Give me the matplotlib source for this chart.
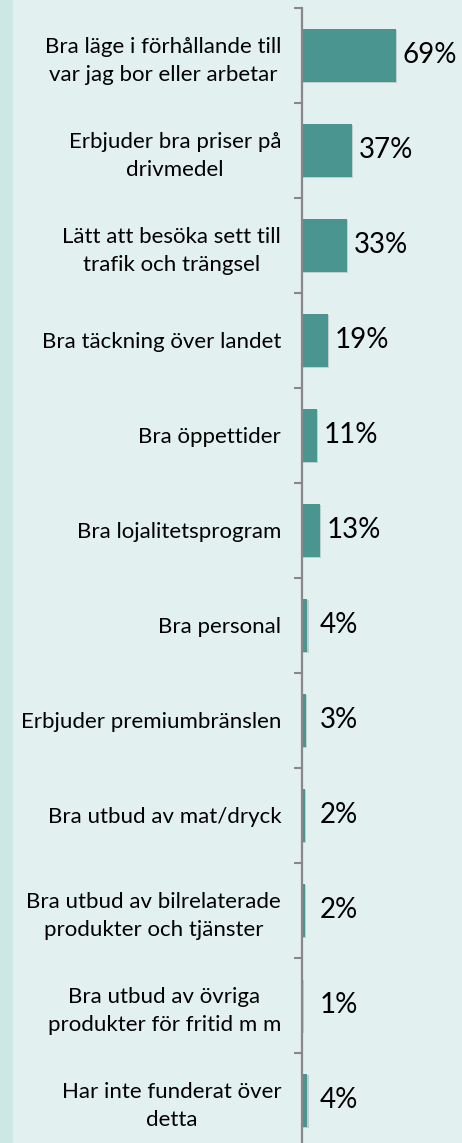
import matplotlib.pyplot as plt
import matplotlib.patheffects as pe
from matplotlib.patches import Rectangle

# Data
categories = [
    "Bra läge i förhållande till\nvar jag bor eller arbetar",
    "Erbjuder bra priser på\ndrivmedel",
    "Lätt att besöka sett till\ntrafik och trängsel",
    "Bra täckning över landet",
    "Bra öppettider",
    "Bra lojalitetsprogram",
    "Bra personal",
    "Erbjuder premiumbränslen",
    "Bra utbud av mat/dryck",
    "Bra utbud av bilrelaterade\nprodukter och tjänster",
    "Bra utbud av övriga\nprodukter för fritid m m",
    "Har inte funderat över\ndetta",
]
values = [69, 37, 33, 19, 11, 13, 4, 3, 2, 2, 1, 4]

BG = "#e2f0ef"
STRIPE = "#cde7e4"
BAR = "#4b9590"
AXIS = "#888888"

W, H = 462, 1143
fig = plt.figure(figsize=(W / 100, H / 100), dpi=100)
fig.patch.set_facecolor(BG)
fig.patches.append(Rectangle((0, 0), 13 / W, 1, transform=fig.transFigure,
                             facecolor=STRIPE, edgecolor="none", zorder=0))

# axis runs from y=8px down past the bottom edge (cropped like the original)
ax = fig.add_axes([302 / W, 1 - 1148 / H, 1 - 302 / W, 1140 / H])
ax.set_facecolor("none")

y = list(range(len(categories)))
bars = ax.barh(y, values, height=0.56, color=BAR, zorder=2)
for b in bars:
    b.set_path_effects([pe.SimplePatchShadow(offset=(0.8, -0.8), alpha=0.18,
                                             shadow_rgbFace="#333333"),
                        pe.Normal()])

ax.set_xlim(0, (W - 302) / 1.36)
ax.set_ylim(len(categories) - 0.5, -0.5)

for yi, v in zip(y, values):
    ax.annotate(f"{v}%", (max(v, 8), yi), xytext=(5, 0),
                textcoords="offset points", va="center", ha="left",
                fontsize=20, family="Lato", color="black")

ax.set_yticks(y)
ax.set_yticklabels(categories, fontsize=16, family="Lato", color="black",
                   ha="right", multialignment="center", linespacing=1.45)
ax.set_yticks([i - 0.5 for i in range(len(categories) + 1)], minor=True)
ax.tick_params(axis="y", which="major", length=0, pad=15)
ax.tick_params(axis="y", which="minor", length=6, width=1.5, color=AXIS)
ax.set_xticks([])

for s in ("top", "right", "bottom"):
    ax.spines[s].set_visible(False)
ax.spines["left"].set_color(AXIS)
ax.spines["left"].set_linewidth(1.6)

fig.savefig("out.png", dpi=100, facecolor=BG)
